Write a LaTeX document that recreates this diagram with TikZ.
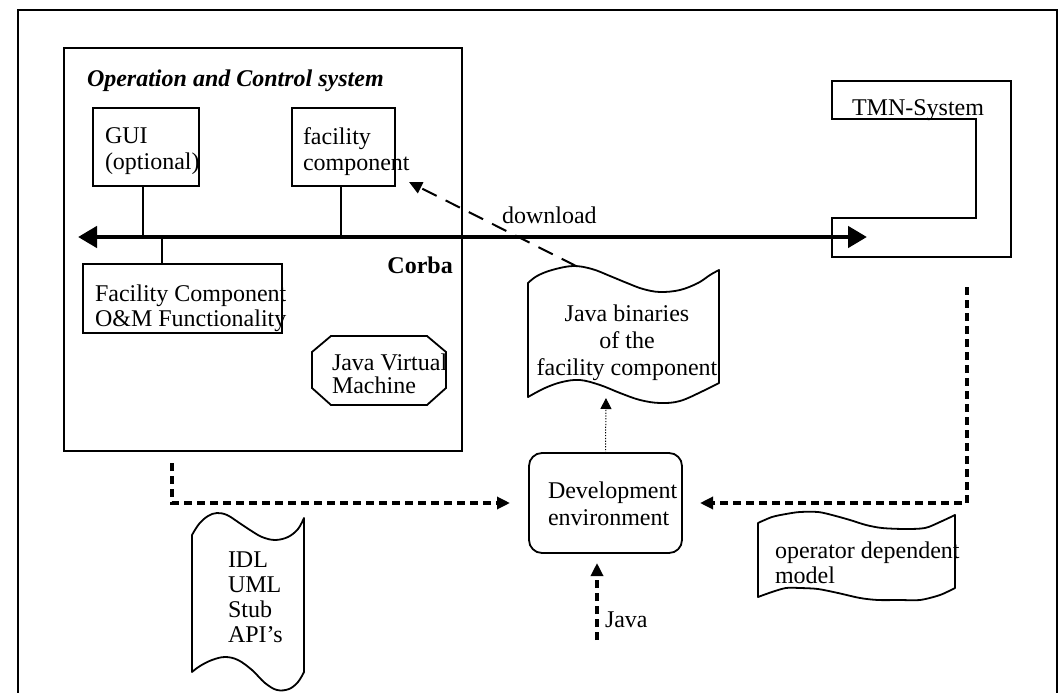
\documentclass[tikz,border=0pt]{standalone}
\usepackage{fontspec}
\setmainfont{Liberation Serif}
\usetikzlibrary{arrows.meta}
\begin{document}
\begin{tikzpicture}[x=1pt,y=-1pt,
  font=\fontsize{24}{26}\selectfont,
  line join=miter,
  box/.style={draw,line width=1.8pt,inner sep=0,outer sep=0},
  txt/.style={anchor=north west,inner sep=0,outer sep=0,align=left,execute at begin node=\strut},
  link/.style={line width=1.5pt},
  bus/.style={line width=4.5pt,{Triangle[length=19pt,width=21pt]}-{Triangle[length=19pt,width=21pt]}},
  flow/.style={line width=3.2pt,dash pattern=on 8pt off 5pt,-{Triangle[length=13pt,width=12pt]}},
  dl/.style={line width=2pt,dash pattern=on 16pt off 10pt,-{Triangle[length=13pt,width=12pt]}},
  gen/.style={line width=1pt,dash pattern=on 1.2pt off 1.6pt,-{Triangle[length=11pt,width=11pt]}},
  doc/.style={draw,line width=1.8pt,line join=round}]
\useasboundingbox (0,0) rectangle (1061,693);

% outer frame (open at the bottom)
\draw[line width=2pt] (18,710) -- (18,10) -- (1057,10) -- (1057,710);

% Operation and Control system
\node[box,minimum width=398pt,minimum height=403pt] (ocs) at (263,249.5) {};
\node[txt,font=\fontsize{24}{26}\selectfont\bfseries\itshape] (ocst) at (87,68.8) {Operation and Control system};

\node[box,minimum width=106pt,minimum height=78pt] (gui) at (146,147) {};
\node[txt] (guit) at (105,127.8) {GUI\\(optional)};

\node[box,minimum width=103pt,minimum height=78pt] (fac) at (343.5,147) {};
\node[txt] (fact) at (303,127.8) {facility\\component};

\node[box,minimum width=199pt,minimum height=69pt] (om) at (182.5,298.5) {};
\node[txt] (omt) at (95,284.8) {Facility Component\\[-1pt]O\&M Functionality};

% Java Virtual Machine (octagon)
\draw[line width=1.8pt] (331,336) -- (427,336) -- (446,352) -- (446,388) -- (427,405)
  -- (331,405) -- (312,388) -- (312,352) -- cycle;
\node[txt] (jvm) at (332,353.8) {Java Virtual\\[-3pt]Machine};

\node[anchor=north east,inner sep=0,execute at begin node=\strut,font=\fontsize{24}{26}\selectfont\bfseries] (corba) at (453,254.8) {Corba};

% Corba bus
\coordinate (busL) at (78,237);
\coordinate (busR) at (867,237);
\draw[bus] (busL) -- (busR);
\draw[link] ([xshift=-3pt]gui.south) -- ([xshift=-3pt]gui.south |- busL);
\draw[link] ([xshift=-2.5pt]fac.south) -- ([xshift=-2.5pt]fac.south |- busL);
\draw[link] (162,237) -- (om.north -| 162,0);

% TMN-System
\draw[line width=1.8pt] (832,81) -- (1011,81) -- (1011,257) -- (832,257) -- (832,218)
  -- (976,218) -- (976,119) -- (832,119) -- cycle;
\node[txt] (tmn) at (852,97.8) {TMN-System};

% Java binaries document
\draw[doc] plot[smooth,tension=0.6] coordinates {(528,283) (537,276) (552,270) (573,266) (592,269) (610,276) (627,283) (643,289) (660,292) (680,290) (698,283) (710,275) (719,270)}
  -- plot[smooth,tension=0.6] coordinates {(719,383) (703,391) (680,401) (660,403) (640,400) (620,393) (600,385) (580,380) (562,382) (545,388) (528,397)}
  -- cycle;
\node[anchor=north,inner sep=0,align=center,execute at begin node=\strut] (bin) at (627,304.8) {Java binaries\\[1pt]of the\\[1pt]facility component};
\coordinate (binTop) at (576,266);
\coordinate (binBot) at (606,398);
\coordinate (dlTip) at (409,182);
\draw[dl] (binTop) -- (dlTip);
\node[txt] (dlt) at (502,204.8) {download};

% Development environment
\node[box,rounded corners=13pt,minimum width=153pt,minimum height=100pt] (dev) at (605.5,503) {};
\node[txt] (devt) at (548,481.8) {Development\\[1pt]environment};
\draw[gen] (dev.north) -- (binBot);

% inputs to the development environment
\coordinate (ocsOut) at (172,463);
\draw[flow] (ocsOut) |- ([xshift=-19pt]dev.west);
\coordinate (tmnOut) at (967,287);
\draw[flow] (tmnOut) |- ([xshift=18pt]dev.east);
\coordinate (javaIn) at (597,640);
\coordinate (javaTip) at (597,563);
\draw[flow] (javaIn) -- (javaTip);
\node[txt] (javat) at (605,608.8) {Java};

% IDL document
\draw[doc] plot[smooth,tension=0.6] coordinates {(192,535) (199,524) (208,516) (217,513) (227,515) (238,522) (250,530) (262,537) (275,540) (288,537) (298,529) (304,518)}
  -- plot[smooth,tension=0.6] coordinates {(304,672) (298,682) (289,689) (277,690) (265,683) (252,670) (238,660) (225,657) (212,660) (200,666) (192,672)}
  -- cycle;
\node[txt] (idl) at (228,551.8) {IDL\\[-1pt]UML\\[-1pt]Stub\\[-1pt]API{\char"0027}s};

% operator dependent model document
\draw[doc] plot[smooth,tension=0.5] coordinates {(758,523) (772,517) (786,514) (800,512) (818,512) (832,515) (850,520) (866,525) (882,528) (905,529) (925,528) (940,522) (955,515)}
  -- plot[smooth,tension=0.5] coordinates {(955,588) (940,595) (920,600) (900,600) (878,600) (860,598) (838,593) (818,589) (800,588) (786,588) (772,592) (758,597)}
  -- cycle;
\node[txt] (opm) at (775,541.8) {operator dependent\\[-1pt]model};
\end{tikzpicture}
\end{document}
